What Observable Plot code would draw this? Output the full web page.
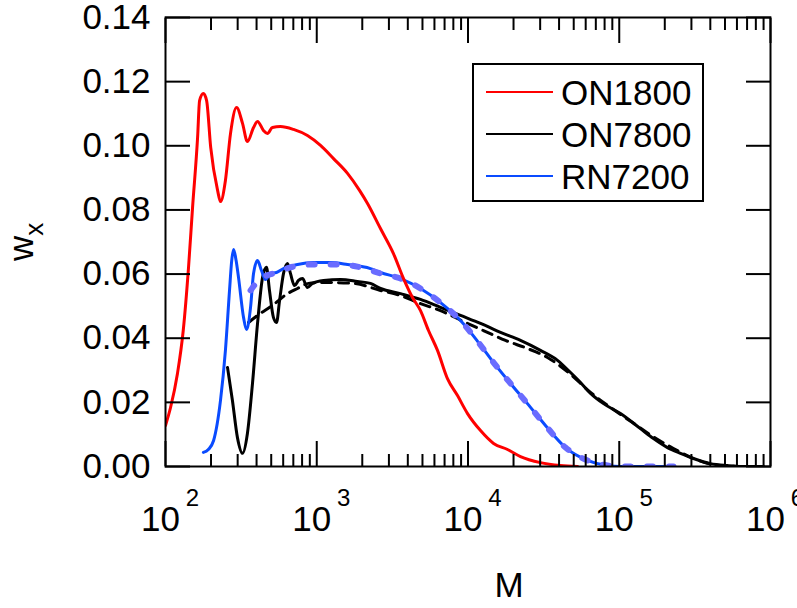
<!DOCTYPE html>
<html><head><meta charset="utf-8">
<script src="https://cdn.jsdelivr.net/npm/d3@7"></script>
<script src="https://cdn.jsdelivr.net/npm/@observablehq/plot@0.6"></script>
<style>body{margin:0;background:#fff;font-family:"Liberation Sans",Arial,sans-serif;}</style>
</head><body><div id="chart"></div>
<script>
// ---- data ----
const on1800M = [100,108,120,131,142,151,163,168,178,187,199,221,231,249,269,295,323,348,382,406,444,472,509,575,702,868,1059,1291,1597,1918,2166,2638,3215,3748,4296,4853,5480,6285,7315,8525,9932,12100,14760,18250,22230,30130,40900,52970];
const on1800W = [0.0128,0.0184,0.0290,0.0424,0.0621,0.0808,0.1026,0.1141,0.1163,0.1141,0.0995,0.0861,0.0826,0.0892,0.1038,0.1119,0.1070,0.1013,0.1057,0.1076,0.1048,0.1038,0.1057,0.1060,0.1051,0.1032,0.1001,0.0960,0.0914,0.0861,0.0820,0.0742,0.0664,0.0586,0.0527,0.0486,0.0424,0.0362,0.0274,0.0221,0.0165,0.0112,0.0072,0.0053,0.0031,0.0012,0.0003,0];

const on7800M = [257,277,299,323,348,376,406,438,465,487,517,542,568,603,641,670,713,757,805,868,937,1109,1436,1858,2265,2638,3580,4853,6580,8920,12100,16410,22230,30130,39060,47630,55460,64570,78700,101900,138100,168400,208300,254000,309600,401000,519700,663400,899000];
const on7800W = [0.0309,0.0206,0.0090,0.0041,0.0103,0.0259,0.0446,0.0589,0.0621,0.0549,0.0465,0.0449,0.0518,0.0602,0.0633,0.0602,0.0564,0.0580,0.0586,0.0558,0.0571,0.0580,0.0583,0.0577,0.0571,0.0555,0.0539,0.0521,0.0496,0.0471,0.0446,0.0418,0.0393,0.0362,0.0331,0.0293,0.0262,0.0228,0.0196,0.0165,0.0118,0.0087,0.0059,0.0041,0.0025,0.0009,0.0003,0,0];

const on7800FitM = [354,406,509,641,746,882,1109,1749,2638,3580,4853,6580,9340,12650,17690,24720,33540,46160,64570,87500,122400,166000,228500,309600,420000,633000];
const on7800FitW = [0.0449,0.0471,0.0502,0.0539,0.0555,0.0571,0.0574,0.0571,0.0549,0.0533,0.0508,0.0486,0.0452,0.0424,0.0393,0.0368,0.0340,0.0293,0.0231,0.0184,0.0137,0.0094,0.0056,0.0025,0.0006,0];

const rn7200M = [178,192,208,231,249,265,274,282,293,304,328,343,365,382,406,431,458,494,542,603,746,952,1233,1597,2265,2638,3580,4853,6580,8920,11720,14760,19100,24720,32520,44140,61700,83600,101900,228500];
const rn7200W = [0.0044,0.0053,0.0081,0.0206,0.0362,0.0549,0.0642,0.0677,0.0642,0.0589,0.0465,0.0427,0.0496,0.0602,0.0642,0.0611,0.0583,0.0602,0.0605,0.0617,0.0630,0.0636,0.0636,0.0630,0.0617,0.0605,0.0586,0.0555,0.0511,0.0455,0.0387,0.0324,0.0259,0.0196,0.0128,0.0059,0.0019,0.0003,0,0];

const rn7200FitM = [365,425,517,670,952,1372,1946,2638,3580,4853,6580,8920,11720,14760,19100,24720,32520,44140,61700,83600,101900,228500];
const rn7200FitW = [0.0549,0.0586,0.0602,0.0621,0.0630,0.0630,0.0621,0.0602,0.0586,0.0555,0.0511,0.0455,0.0387,0.0324,0.0259,0.0196,0.0128,0.0059,0.0019,0.0003,0,0];

const xMajor = [1e2,1e3,1e4,1e5,1e6];
const xExponents = ["2","3","4","5","6"];
const xMinor = [2,3,4,5,6,7,8,9,20,30,40,50,60,70,80,90,200,300,400,500,600,700,800,900,2000,3000,4000,5000,6000,7000,8000,9000].map(v => v*100);
const yTicks = [0,0.02,0.04,0.06,0.08,0.10,0.12,0.14];

const legendNames = ["ON1800","ON7800","RN7200"];
const legendColors = ["#ff0000","#000000","#0a4bff"];

const toRows = (M, W) => M.map((m, i) => ({M: m, w: W[i]}));
const red = toRows(on1800M, on1800W);
const blk = toRows(on7800M, on7800W);
const blkFit = toRows(on7800FitM, on7800FitW);
const blu = toRows(rn7200M, rn7200W);
const bluFit = toRows(rn7200FitM, rn7200FitW);

const FS = 35;
const SW = 3;
const plot = Plot.plot({
  width: 797, height: 608,
  marginLeft: 165, marginRight: 27, marginTop: 17, marginBottom: 142,
  style: {fontFamily: '"Liberation Sans", Arial, sans-serif', fontSize: FS + "px", background: "#fff", overflow: "visible"},
  x: {type: "log", domain: [1e2, 1e6]},
  y: {domain: [0, 0.14]},
  marks: [
    Plot.line(blk, {x: "M", y: "w", stroke: "#000", strokeWidth: SW, curve: "monotone-x", clip: true}),
    Plot.line(blkFit, {x: "M", y: "w", stroke: "#000", strokeWidth: SW, strokeDasharray: "10,7", curve: "monotone-x", clip: true}),
    Plot.line(blu, {x: "M", y: "w", stroke: legendColors[2], strokeWidth: SW, curve: "monotone-x", clip: true}),
    Plot.line(bluFit, {x: "M", y: "w", stroke: "#6a6cff", strokeWidth: 6, strokeDasharray: "6,16", curve: "monotone-x", clip: true}),
    Plot.line(red, {x: "M", y: "w", stroke: legendColors[0], strokeWidth: SW, curve: "monotone-x", clip: true}),
    // inward ticks
    Plot.axisX(xMajor, {anchor: "bottom", label: null, tickSize: -25, strokeWidth: 2, tickFormat: () => ""}),
    Plot.axisX(xMinor, {anchor: "bottom", label: null, tickSize: -12, strokeWidth: 2, tickFormat: () => ""}),
    Plot.axisX(xMajor, {anchor: "top", label: null, tickSize: -25, strokeWidth: 2, tickFormat: () => ""}),
    Plot.axisX(xMinor, {anchor: "top", label: null, tickSize: -12, strokeWidth: 2, tickFormat: () => ""}),
    Plot.axisY(yTicks, {anchor: "left", label: null, tickSize: -25, tickPadding: 40, strokeWidth: 2, tickFormat: d3.format(".2f"), fontSize: FS}),
    Plot.axisY(yTicks, {anchor: "right", label: null, tickSize: -25, strokeWidth: 2, tickFormat: () => ""}),
    // x tick labels: 10 with superscript exponent
    Plot.text(xMajor, {x: d => d, frameAnchor: "bottom", text: () => "10", dx: -5, dy: 64, lineAnchor: "bottom", fontSize: FS}),
    Plot.text(xMajor, {x: d => d, frameAnchor: "bottom", text: (d, i) => xExponents[i], dx: 27, dy: 39, lineAnchor: "bottom", fontSize: 24}),
    Plot.text(["M"], {frameAnchor: "bottom", text: d => d, dx: 41, dy: 130, lineAnchor: "bottom", fontSize: FS}),
    Plot.frame({stroke: "#000", strokeWidth: 2})
  ]
});
document.getElementById("chart").appendChild(plot);

// y-axis label w_x (rotated) and legend box
const svg = d3.select(plot);
const yl = svg.append("text")
  .attr("transform", "translate(33,261) rotate(-90)")
  .attr("text-anchor", "start")
  .attr("font-size", FS).attr("fill", "#000");
yl.append("tspan").text("w");
yl.append("tspan").attr("dy", 10).attr("font-size", 26).text("x");

const lg = svg.append("g").attr("text-anchor", "start");
lg.append("rect").attr("x", 473).attr("y", 64).attr("width", 230).attr("height", 137)
  .attr("fill", "#fff").attr("stroke", "#000").attr("stroke-width", 2);
legendNames.forEach((name, i) => {
  const cy = 92 + i * 42;
  lg.append("line").attr("x1", 486).attr("x2", 553).attr("y1", cy).attr("y2", cy)
    .attr("stroke", legendColors[i]).attr("stroke-width", 2);
  lg.append("text").attr("x", 561).attr("y", cy + 13).attr("text-anchor", "start")
    .attr("font-size", FS).attr("fill", "#000").text(name);
});
</script></body></html>
